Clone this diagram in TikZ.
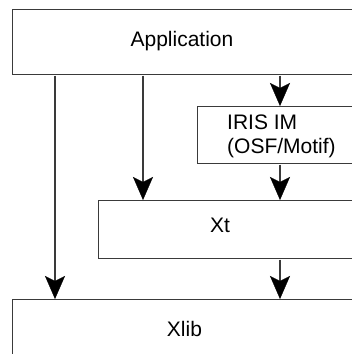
\documentclass[tikz,border=0pt]{standalone}
\usepackage{fontspec}
\setmainfont{Liberation Sans}
\usetikzlibrary{arrows.meta}
\definecolor{linec}{HTML}{3A3A3A}
\tikzset{
  box/.style={draw=linec, line width=1.1pt, rectangle, inner sep=0pt, anchor=north west},
  txt/.style={font=\fontsize{21}{25}\selectfont, text=black, inner sep=0pt, anchor=base},
  arr/.style={draw=linec, line width=1.1pt, -{Stealth[length=23pt, width=20pt, inset=5pt, color=black, fill=black, line width=0.3pt]}, shorten <=0.5pt}
}
\begin{document}
\begin{tikzpicture}[x=1pt, y=1pt]
\useasboundingbox (0,0) rectangle (352,354);
\clip (0,0) rectangle (352,354);
\fill[white] (0,0) rectangle (352,354);
% boxes
\node[box, minimum width=350pt, minimum height=65pt] (app) at (12,345) {};
\node[box, minimum width=165pt, minimum height=57pt] (iris) at (197,248) {};
\node[box, minimum width=264pt, minimum height=58pt] (xt) at (98,154) {};
\node[box, minimum width=350pt, minimum height=70pt] (xlib) at (12,55) {};
% texts
\node[txt] (tapp) at (182,307) {Application};
\node[txt, anchor=base west] (tiris1) at (227,224) {IRIS IM};
\node[txt, anchor=base west] (tiris2) at (227,200) {(OSF/Motif)};
\node[txt] (txt) at (220,121) {Xt};
\node[txt] (txlib) at (184.5,17) {Xlib};
% arrow columns
\coordinate (c1) at (55,0);
\coordinate (c2) at (143,0);
\coordinate (c3) at (280,0);
% connectors
\draw[arr] (app.south -| c3) -- (iris.north -| c3);
\draw[arr] (iris.south -| c3) -- (xt.north -| c3);
\draw[arr] (app.south -| c2) -- (xt.north -| c2);
\draw[arr] (xt.south -| c3) -- (xlib.north -| c3);
\draw[arr] (app.south -| c1) -- (xlib.north -| c1);
\end{tikzpicture}
\end{document}
